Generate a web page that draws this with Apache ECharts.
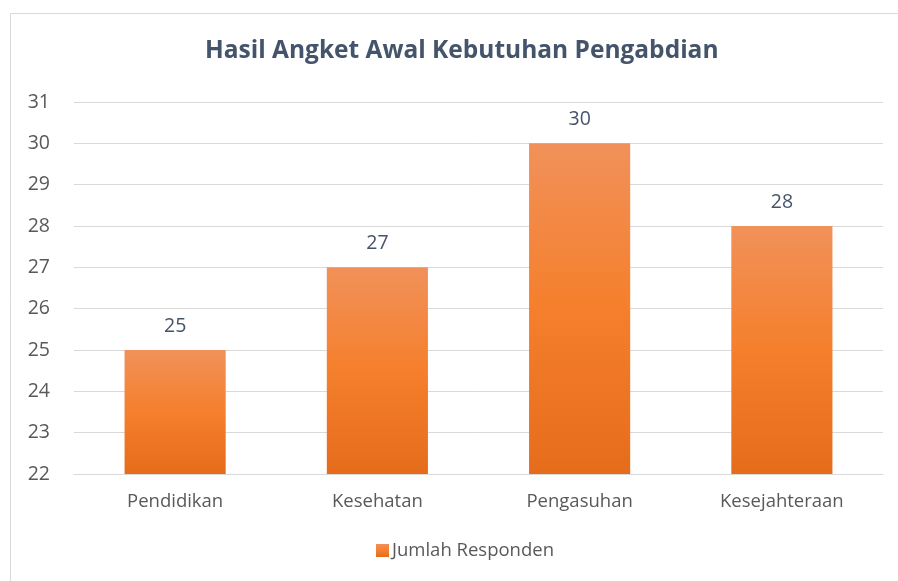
<!DOCTYPE html>
<html><head><meta charset="utf-8">
<script src="https://cdn.jsdelivr.net/npm/echarts@6/dist/echarts.min.js"></script>
<style>html,body{margin:0;padding:0;background:#fff}#c{width:898px;height:581px}</style>
</head><body><div id="c"></div>
<script>
const categories = ['Pendidikan', 'Kesehatan', 'Pengasuhan', 'Kesejahteraan'];
const values = [25, 27, 30, 28];
const seriesName = 'Jumlah Responden';
const titleText = 'Hasil Angket Awal Kebutuhan Pengabdian';

const chart = echarts.init(document.getElementById('c'));
const font = '"Open Sans", sans-serif';
chart.setOption({
  animation: false,
  textStyle: { fontFamily: font },
  graphic: [{ type: 'rect', shape: { x: 10.5, y: 13.5, width: 900, height: 600 }, style: { fill: 'none', stroke: '#D9D9D9', lineWidth: 1 }, silent: true }],
  title: { text: titleText, left: 200, top: 34, textStyle: { fontFamily: font, fontSize: 24.5, fontWeight: 'bold', color: '#44546A' } },
  legend: { bottom: 16, left: 371, itemWidth: 13, itemHeight: 13, itemGap: 4, icon: 'rect',
    textStyle: { fontFamily: font, fontSize: 18.5, color: '#595959', padding: [0, 0, 0, -2] } },
  grid: { left: 74, right: 15, top: 102, bottom: 107, containLabel: false },
  xAxis: { type: 'category', data: categories,
    axisLine: { show: true, lineStyle: { color: '#D9D9D9', width: 1 } }, axisTick: { show: false },
    axisLabel: { fontSize: 18.5, color: '#595959', margin: 18, fontFamily: font } },
  yAxis: { type: 'value', min: 22, max: 31, interval: 1,
    axisLine: { show: false }, axisTick: { show: false },
    splitLine: { lineStyle: { color: '#D9D9D9', width: 1 } },
    axisLabel: { fontSize: 19.5, color: '#595959', margin: 24, fontFamily: font } },
  series: [{ name: seriesName, type: 'bar', data: values, barWidth: '50%',
    itemStyle: { color: new echarts.graphic.LinearGradient(0, 0, 0, 1, [
      { offset: 0, color: '#F1915A' }, { offset: 0.5, color: '#F57F2C' }, { offset: 1, color: '#E56C1B' }]) },
    label: { show: true, position: 'top', distance: 14, fontSize: 19.5, color: '#44546A', fontFamily: font } }]
});
</script></body></html>
